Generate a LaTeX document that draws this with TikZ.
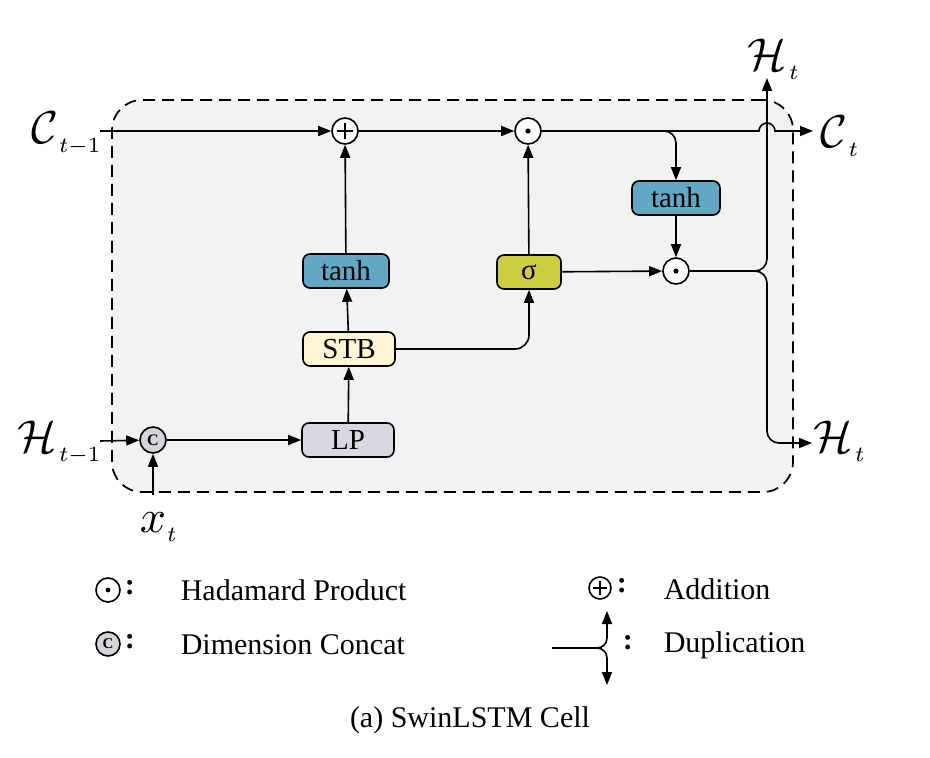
\documentclass[tikz,border=0pt]{standalone}
\usepackage{graphicx}
\usepackage{fontspec}
\setmainfont{Liberation Serif}
\usetikzlibrary{arrows.meta}
\definecolor{bgcell}{RGB}{242,242,242}
\definecolor{tanhc}{RGB}{98,168,196}
\definecolor{sigc}{RGB}{205,205,66}
\definecolor{stbc}{RGB}{255,244,212}
\definecolor{lpc}{RGB}{218,215,228}
\definecolor{catc}{RGB}{212,212,218}
\newcommand{\biglbl}[3]{{\fontsize{10}{12}\selectfont\scalebox{4.6}{$#1$}\kern#3\raisebox{-9pt}{\scalebox{3.1}{$\scriptstyle #2$}}}}
\begin{document}
\begin{tikzpicture}[x=1pt,y=-1pt, line width=1.6pt,
  >={Triangle[length=13pt,width=10pt]},
  fbox/.style={draw, rounded corners=7pt, minimum height=34pt, inner sep=0pt, font=\fontsize{29}{30}\selectfont},
  op/.style={circle, draw, fill=white, minimum size=26pt, inner sep=0pt},
  lab/.style={inner sep=0pt},
  txt/.style={font=\fontsize{30}{32}\selectfont, anchor=west, inner sep=0pt}]
\useasboundingbox (0,0) rectangle (930,758);
% cell background
\node (cell) [draw, dash pattern=on 12pt off 7pt, line width=1.7pt, fill=bgcell, rounded corners=30pt,
  minimum width=681pt, minimum height=392pt, inner sep=0pt] at (452.5,296) {};
% operators
\node (plus) [op] at (345,131) {};
\draw ([xshift=-8pt]plus.center) -- ([xshift=8pt]plus.center);
\draw ([yshift=-8pt]plus.center) -- ([yshift=8pt]plus.center);
\node (odot1) [op] at (528,131) {};
\fill (odot1.center) circle (2.6pt);
\node (odot2) [op] at (676,271) {};
\fill (odot2.center) circle (2.6pt);
\node (cat) [op, fill=catc] at (153,440) {\fontsize{16}{16}\selectfont\bfseries C};
% function boxes
\node (tanh1) [fbox, fill=tanhc, minimum width=86pt] at (346,271) {tanh};
\node (tanh2) [fbox, fill=tanhc, minimum width=88pt] at (676,198) {tanh};
\node (sigma) [fbox, fill=sigc, minimum width=64pt] at (529,272) {σ};
\node (stb) [fbox, fill=stbc, minimum width=92pt] at (349,349) {STB};
\node (lp) [fbox, fill=lpc, minimum width=92pt] at (348,440) {LP};
% labels
\node (clab) [lab, anchor=base east] at (101,143) {\biglbl{\mathcal{C}}{t-1}{1pt}};
\node (hlab) [lab, anchor=base east] at (101,452) {\biglbl{\mathcal{H}}{t-1}{2pt}};
\node (xlab) [lab, anchor=base west] at (139,532) {\biglbl{x}{t}{1pt}};
\node (ctlab) [lab, anchor=base west] at (820,147) {\biglbl{\mathcal{C}}{t}{1pt}};
\node (htlab) [lab, anchor=base west] at (813,452) {\biglbl{\mathcal{H}}{t}{2pt}};
\node (htop) [lab, anchor=base west] at (747,70) {\biglbl{\mathcal{H}}{t}{2pt}};
% coordinates
\coordinate (cin) at (100,131);
\coordinate (hin) at (100,441);
\coordinate (xin) at (153,495);
\coordinate (br1) at (600,131);
\coordinate (hup) at (767,78);
\coordinate (hdn) at (767,443);
\coordinate (hout) at (812,443);
\coordinate (cout) at (813,131);
% connectors
\draw[->] (cin) -- (plus);
\draw[->] (plus) -- (odot1);
\draw[->] (odot1.east) -- (759,131) arc[start angle=180, end angle=0, radius=8pt] -- (cout);
\draw[->, rounded corners=12pt] (br1) -| (tanh2.north);
\draw[->] (tanh2) -- (odot2);
\draw[->] (sigma) -- (odot2);
\draw[->] (sigma) -- (odot1);
\draw[->] (tanh1) -- (plus);
\draw[->] (stb) -- (tanh1);
\draw[->, rounded corners=14pt] (stb.east) -| (sigma.south);
\draw[->] (lp) -- (stb);
\draw[->] (cat) -- (lp);
\draw[->] (hin) -- (cat);
\draw[->] (xin) -- (cat);
\draw[->, rounded corners=12pt] (odot2.east) -| (hup);
\draw[->, rounded corners=12pt] (odot2.east) -| (hdn) -- (hout);
% legend
\node (lg1) [op, minimum size=24pt] at (108,590) {};
\fill (lg1.center) circle (2.4pt);
\node (lg1c) [txt] at (124,588) {\textbf{:}};
\node (lg1t) [txt] at (180,590) {Hadamard Product};
\node (lg2) [op, fill=catc, minimum size=24pt] at (108,644) {\fontsize{15}{15}\selectfont\bfseries C};
\node (lg2c) [txt] at (124,642) {\textbf{:}};
\node (lg2t) [txt] at (180,645) {Dimension Concat};
\node (lg3) [op, minimum size=22pt] at (600,588) {};
\draw ([xshift=-7pt]lg3.center) -- ([xshift=7pt]lg3.center);
\draw ([yshift=-7pt]lg3.center) -- ([yshift=7pt]lg3.center);
\node (lg3c) [txt] at (616,586) {\textbf{:}};
\node (lg3t) [txt] at (663,589) {Addition};
\coordinate (dupin) at (552,648);
\coordinate (dupup) at (607,611);
\coordinate (dupdn) at (607,685);
\draw[->, rounded corners=10pt] (dupin) -| (dupup);
\draw[->, rounded corners=10pt] (dupin) -| (dupdn);
\node (lg4c) [txt] at (622,643) {\textbf{:}};
\node (lg4t) [txt] at (663,645) {Duplication};
\node (cap) [font=\fontsize{30}{32}\selectfont] at (470,720) {(a) SwinLSTM Cell};
\end{tikzpicture}
\end{document}
